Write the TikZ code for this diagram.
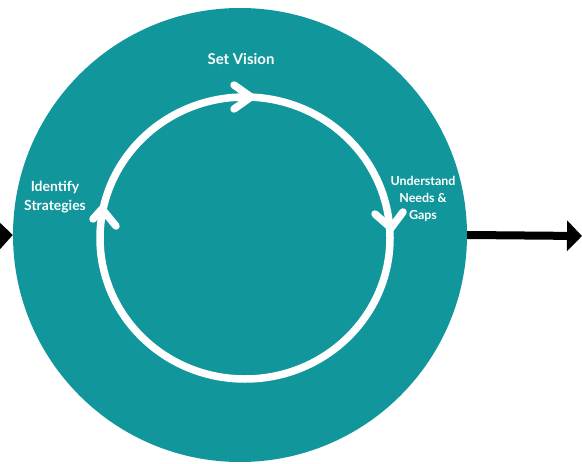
\documentclass[tikz,border=0pt]{standalone}
\usepackage{fontspec}
\setmainfont{Lato}
\usetikzlibrary{arrows.meta}
\definecolor{discteal}{RGB}{17,150,156}

\begin{document}
\begin{tikzpicture}[x=1bp,y=-1bp,
  lbl/.style={text=white,align=center,inner sep=0pt},
  ringline/.style={white,line width=7.5bp,line cap=round,line join=round},
  flow/.style={line width=8bp,-{Triangle[length=15bp,width=30bp]}}]
\useasboundingbox (0,0) rectangle (582,464);
\clip (0,0) rectangle (582,464);
\node (disc) at (240,235) [circle,fill=discteal,inner sep=0pt,minimum size=454bp] {};
% the cycle
\draw [ringline] (245,238) ellipse [x radius=145bp,y radius=141bp];
\draw [ringline] (234,85) -- (251,97) -- (234,109);
\draw [ringline] (375,214) -- (391,228) -- (403,212);
\draw [ringline] (93,219) -- (102,209) -- (116,226);
\node (vision) at (241,59) [lbl,font=\bfseries\fontsize{15}{18}\selectfont] {Set Vision};
\node (strat) at (55,197) [lbl,font=\bfseries\fontsize{14}{19}\selectfont] {Identify\\Strategies};
\node (needs) at (423,199) [lbl,font=\bfseries\fontsize{12.5}{17}\selectfont] {Understand\\Needs \&\\Gaps};
% in and out
\coordinate (src) at (-40,237);
\coordinate (dst) at (582,236);
\draw [flow] (src) -- (disc.west);
\draw [flow] (disc.east) -- (dst);
\end{tikzpicture}
\end{document}
